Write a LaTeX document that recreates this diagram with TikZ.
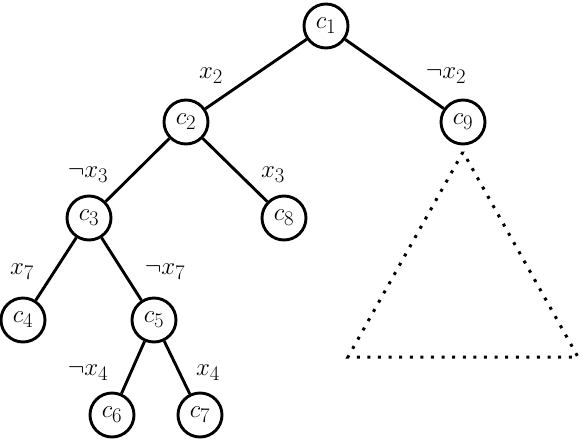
\documentclass[tikz,border=0pt]{standalone}
\begin{document}
\begin{tikzpicture}[x=1pt,y=-1pt,
  bigf/.style={font=\fontsize{28}{33}\selectfont},
  cnode/.style={circle,draw,line width=2.9pt,minimum size=44pt,inner sep=0pt,bigf},
  edge/.style={line width=2.9pt},
  lbl/.style={bigf,inner sep=0pt},
  dots/.style={line width=3pt,dash pattern=on 3pt off 7.6pt}]
\useasboundingbox (0,0) rectangle (580,442);
\node[cnode] (c1) at (326,26) {$c_1$};
\node[cnode] (c2) at (186,122) {$c_2$};
\node[cnode] (c9) at (463,122) {$c_9$};
\node[cnode] (c3) at (89,218) {$c_3$};
\node[cnode] (c8) at (284,218) {$c_8$};
\node[cnode] (c4) at (23,320) {$c_4$};
\node[cnode] (c5) at (154,320) {$c_5$};
\node[cnode] (c6) at (112,415) {$c_6$};
\node[cnode] (c7) at (200,415) {$c_7$};
\draw[edge] (c1) -- (c2);
\draw[edge] (c1) -- (c9);
\draw[edge] (c2) -- (c3);
\draw[edge] (c2) -- (c8);
\draw[edge] (c3) -- (c4);
\draw[edge] (c3) -- (c5);
\draw[edge] (c5) -- (c6);
\draw[edge] (c5) -- (c7);
\node[lbl] (l1) at (211,76) {$x_2$};
\node[lbl] (l2) at (446,76) {$\neg x_2$};
\node[lbl] (l3) at (88,175) {$\neg x_3$};
\node[lbl] (l4) at (273,175) {$x_3$};
\node[lbl] (l5) at (22,272) {$x_7$};
\node[lbl] (l6) at (165,272) {$\neg x_7$};
\node[lbl] (l7) at (88,373) {$\neg x_4$};
\node[lbl] (l8) at (208,373) {$x_4$};
\coordinate (t1) at (463,152);
\coordinate (t2) at (348,357);
\coordinate (t3) at (578,357);
\draw[dots] (t1) -- (t2) -- (t3) -- cycle;
\end{tikzpicture}
\end{document}
